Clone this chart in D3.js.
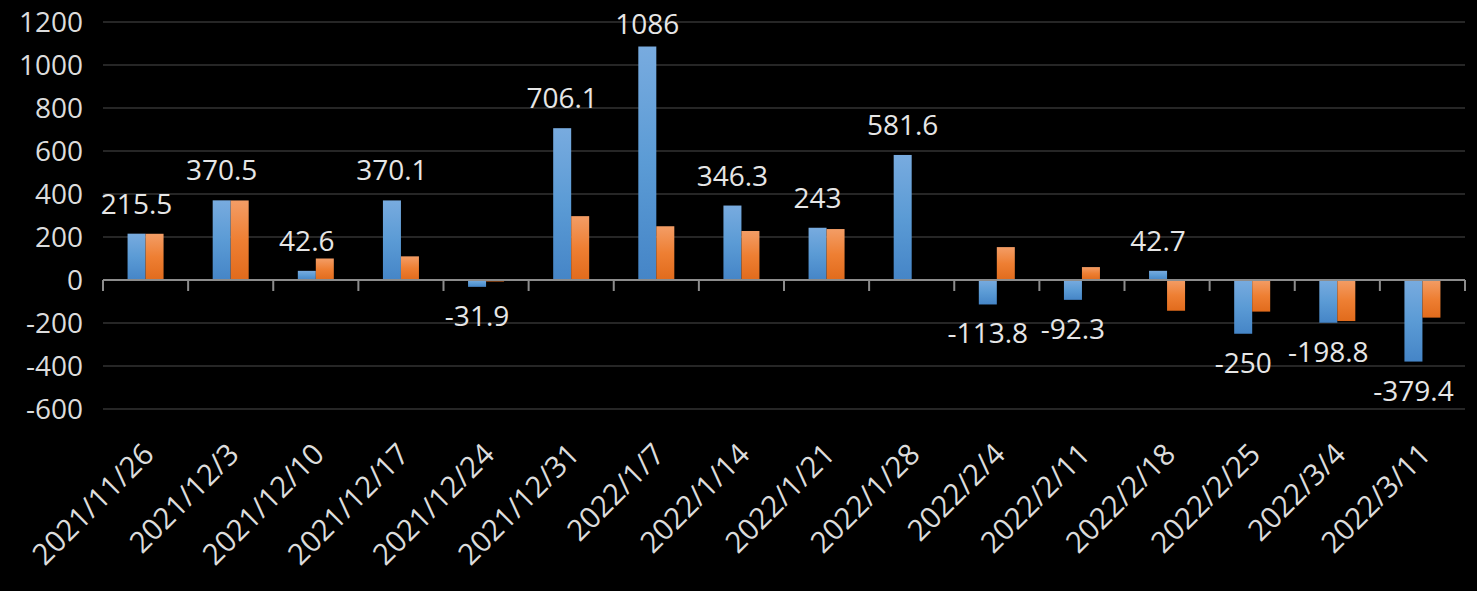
<!DOCTYPE html>
<html><head><meta charset="utf-8">
<script src="https://cdn.jsdelivr.net/npm/d3@7"></script>
<style>html,body{margin:0;padding:0;background:#000;}svg{display:block;}</style>
</head><body>
<script>
const categories = ["2021/11/26","2021/12/3","2021/12/10","2021/12/17","2021/12/24","2021/12/31","2022/1/7","2022/1/14","2022/1/21","2022/1/28","2022/2/4","2022/2/11","2022/2/18","2022/2/25","2022/3/4","2022/3/11"];
const blueValues = [215.5,370.5,42.6,370.1,-31.9,706.1,1086,346.3,243,581.6,-113.8,-92.3,42.7,-250,-198.8,-379.4];
const orangeValues = [215,370,100,110,-7,297,250,228,237,null,153,60,-143,-147,-191,-175];
const yTicks = [-600,-400,-200,0,200,400,600,800,1000,1200];

const W = 1477, H = 591;
const font = "'Open Sans', 'Noto Sans', sans-serif";
const svg = d3.select("body").append("svg").attr("width", W).attr("height", H)
  .style("background", "#000");

const defs = svg.append("defs");
function grad(id, stops) {
  const g = defs.append("linearGradient").attr("id", id).attr("x1",0).attr("y1",0).attr("x2",0).attr("y2",1);
  stops.forEach(([o,c]) => g.append("stop").attr("offset", o).attr("stop-color", c));
}
grad("gBlue", [[0,"#78abdf"],[0.5,"#5b9bd5"],[1,"#4585c7"]]);
grad("gOrange", [[0,"#f39d66"],[0.5,"#ee7f33"],[1,"#e16b1c"]]);

const x = d3.scaleBand().domain(categories).range([103, 1465]).padding(0);
const y = d3.scaleLinear().domain([-600, 1200]).range([409, 22]);
const bw = 18;

// gridlines
svg.append("g").selectAll("line").data(yTicks.filter(d => d !== 0)).join("line")
  .attr("x1", 103).attr("x2", 1465)
  .attr("y1", d => y(d)).attr("y2", d => y(d))
  .attr("stroke", "#262626").attr("stroke-width", 2);

// y labels
svg.append("g").selectAll("text").data(yTicks).join("text")
  .attr("x", 83).attr("y", d => y(d) + 10)
  .attr("text-anchor", "end")
  .attr("fill", "#dcdcdc").attr("font-family", font).attr("font-size", 28)
  .text(d => d);

// bars
const gB = svg.append("g");
gB.selectAll("rect.b").data(categories).join("rect").attr("class","b")
  .attr("x", d => x(d) + x.bandwidth()/2 - bw)
  .attr("width", bw)
  .attr("y", (d,i) => y(Math.max(0, blueValues[i])))
  .attr("height", (d,i) => Math.abs(y(blueValues[i]) - y(0)))
  .attr("fill", "url(#gBlue)");
gB.selectAll("rect.o").data(categories.map((c,i)=>({c, v: orangeValues[i]})).filter(d => d.v !== null)).join("rect").attr("class","o")
  .attr("x", d => x(d.c) + x.bandwidth()/2)
  .attr("width", bw)
  .attr("y", d => y(Math.max(0, d.v)))
  .attr("height", d => Math.abs(y(d.v) - y(0)))
  .attr("fill", "url(#gOrange)");

// zero axis
svg.append("line").attr("x1", 103).attr("x2", 1465).attr("y1", y(0)).attr("y2", y(0))
  .attr("stroke", "#8c8c8c").attr("stroke-width", 2);
const tickPos = categories.map(c => x(c)).concat([x(categories[categories.length-1]) + x.bandwidth()]);
svg.append("g").selectAll("line").data(tickPos).join("line")
  .attr("x1", d => d).attr("x2", d => d)
  .attr("y1", y(0)).attr("y2", y(0) + 11)
  .attr("stroke", "#8c8c8c").attr("stroke-width", 2);

// data labels (blue series)
svg.append("g").selectAll("text").data(categories).join("text")
  .attr("x", d => x(d) + x.bandwidth()/2 - bw/2)
  .attr("y", (d,i) => {
    const v = blueValues[i];
    if (v >= 0) return Math.max(y(v) - 20, 34);
    return y(v) + 39;
  })
  .attr("text-anchor", "middle")
  .attr("fill", "#e6e6e6").attr("font-family", font).attr("font-size", 28)
  .text((d,i) => blueValues[i]);

// x labels
svg.append("g").selectAll("text").data(categories).join("text")
  .attr("transform", d => `translate(${x(d) + x.bandwidth()/2 + 10},456) rotate(-45)`)
  .attr("text-anchor", "end")
  .attr("fill", "#dcdcdc").attr("font-family", font).attr("font-size", 29.5)
  .text(d => d);
</script>
</body></html>
